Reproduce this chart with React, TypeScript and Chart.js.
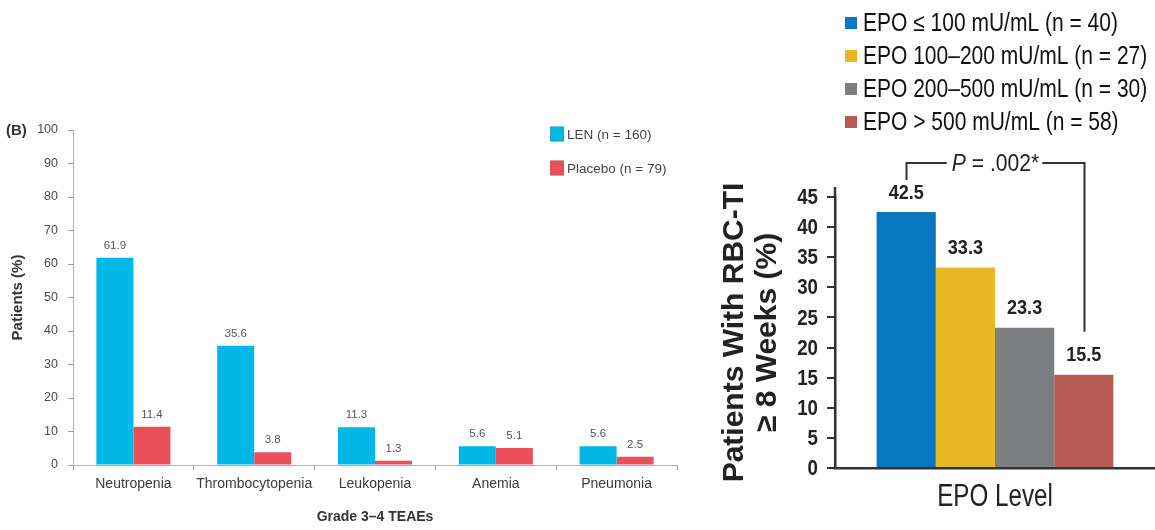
import React, { useEffect, useRef } from "react";
import { Chart, registerables } from "chart.js";

Chart.register(...registerables);

// ---------- Left panel data ----------
const leftCategories = ["Neutropenia", "Thrombocytopenia", "Leukopenia", "Anemia", "Pneumonia"];
const lenValues = [61.9, 35.6, 11.3, 5.6, 5.6];
const placeboValues = [11.4, 3.8, 1.3, 5.1, 2.5];
const leftSeriesLabels = ["LEN (n = 160)", "Placebo (n = 79)"];
const leftColors = ["#00b8e6", "#eb4f5a"];
const leftYMax = 100;
const leftYStep = 10;

// ---------- Right panel data ----------
const rightCategories = ["EPO Level"];
const epoLabels = [
  "EPO \u2264 100 mU/mL (n = 40)",
  "EPO 100\u2013200 mU/mL (n = 27)",
  "EPO 200\u2013500 mU/mL (n = 30)",
  "EPO > 500 mU/mL (n = 58)",
];
const epoValues = [42.5, 33.3, 23.3, 15.5];
const epoColors = ["#0a77c2", "#e6b822", "#7d7e82", "#b75c55"];
const rightYMax = 45;
const rightYStep = 5;
const pValueText = " = .002*";
const rightYTitle = ["Patients With RBC-TI", "\u2265 8 Weeks (%)"];

const SANS = "'Liberation Sans', Arial, Helvetica, sans-serif";

// draw horizontally condensed text (emulates a condensed typeface)
function narrowText(
  ctx: CanvasRenderingContext2D,
  text: string,
  x: number,
  y: number,
  font: string,
  align: CanvasTextAlign,
  sx: number
) {
  ctx.save();
  ctx.font = font;
  ctx.textAlign = align;
  ctx.textBaseline = "middle";
  ctx.translate(x, y);
  ctx.scale(sx, 1);
  ctx.fillText(text, 0, 0);
  ctx.restore();
}

function LeftChart() {
  const ref = useRef<HTMLCanvasElement>(null);
  useEffect(() => {
    const plugin = {
      id: "leftExtras",
      afterDatasetsDraw(chart: any) {
        const ctx = chart.ctx;
        ctx.save();
        ctx.font = `11.5px ${SANS}`;
        ctx.fillStyle = "#555";
        ctx.textAlign = "center";
        ctx.textBaseline = "middle";
        chart.data.datasets.forEach((ds: any, i: number) => {
          chart.getDatasetMeta(i).data.forEach((bar: any, j: number) => {
            ctx.fillText(Number(ds.data[j]).toFixed(1), bar.x, bar.y - 12);
          });
        });
        // legend
        const rowsY = [134, 168];
        ctx.font = `13.5px ${SANS}`;
        ctx.textAlign = "left";
        chart.data.datasets.forEach((ds: any, i: number) => {
          const y = rowsY[i];
          ctx.fillStyle = ds.backgroundColor;
          ctx.fillRect(550, y - 7.5, 14, 15);
          ctx.strokeStyle = "rgba(120,120,120,0.35)";
          ctx.lineWidth = 1;
          ctx.strokeRect(550.5, y - 7, 13, 14);
          ctx.fillStyle = "#444";
          ctx.fillText(ds.label, 567, y + 1);
        });
        // panel tag
        ctx.font = `bold 15px ${SANS}`;
        ctx.fillStyle = "#333";
        ctx.fillText("(B)", 6, 131);
        ctx.restore();
      },
    };
    const chart = new Chart(ref.current as HTMLCanvasElement, {
      type: "bar",
      data: {
        labels: leftCategories,
        datasets: [
          {
            label: leftSeriesLabels[0],
            data: lenValues,
            backgroundColor: leftColors[0],
            barPercentage: 1,
            categoryPercentage: 0.613,
          },
          {
            label: leftSeriesLabels[1],
            data: placeboValues,
            backgroundColor: leftColors[1],
            barPercentage: 1,
            categoryPercentage: 0.613,
          },
        ],
      },
      options: {
        responsive: false,
        animation: false,
        layout: { padding: { top: 130, right: 23, left: 0, bottom: 0 } },
        plugins: { legend: { display: false }, tooltip: { enabled: false } },
        scales: {
          x: {
            grid: {
              display: true,
              drawOnChartArea: false,
              drawTicks: true,
              tickLength: 5,
              color: "#9a9a9a",
              offset: true,
            },
            border: { display: true, color: "#b0b0b0", width: 1 },
            ticks: {
              color: "#3a3a3a",
              font: { family: SANS, size: 14 },
              padding: 6,
              maxRotation: 0,
              autoSkip: false,
            },
            title: {
              display: true,
              text: "Grade 3\u20134 TEAEs",
              color: "#333",
              font: { family: SANS, size: 14, weight: "bold" },
              padding: { top: 0, bottom: 4 },
            },
            afterFit: (s: any) => {
              s.height = 65;
            },
          },
          y: {
            min: 0,
            max: leftYMax,
            ticks: {
              stepSize: leftYStep,
              color: "#4a4a4a",
              font: { family: SANS, size: 12.5 },
              padding: 10,
            },
            grid: { drawOnChartArea: false, tickLength: 5, color: "#9a9a9a" },
            border: { display: true, color: "#b0b0b0", width: 1 },
            title: {
              display: true,
              text: "Patients (%)",
              color: "#333",
              font: { family: SANS, size: 15, weight: "bold" },
              padding: { top: 9, bottom: 0 },
            },
            afterFit: (s: any) => {
              s.width = 73;
            },
          },
        },
      },
      plugins: [plugin],
    } as any);
    return () => chart.destroy();
  }, []);
  return (
    <canvas
      ref={ref}
      width={700}
      height={530}
      style={{ position: "absolute", left: 0, top: 0, width: 700, height: 530 }}
    />
  );
}

function RightChart() {
  const ref = useRef<HTMLCanvasElement>(null);
  useEffect(() => {
    const plugin = {
      id: "rightExtras",
      afterDraw(chart: any) {
        const ctx = chart.ctx;
        const area = chart.chartArea;
        const yScale = chart.scales.y;
        const xScale = chart.scales.x;
        ctx.save();
        // y axis extension above top tick
        ctx.strokeStyle = "#333";
        ctx.lineWidth = 2.5;
        ctx.beginPath();
        ctx.moveTo(area.left, area.top + 1);
        ctx.lineTo(area.left, area.top - 10);
        ctx.stroke();

        // y tick labels (condensed)
        ctx.fillStyle = "#222";
        yScale.ticks.forEach((t: any) => {
          const py = yScale.getPixelForValue(t.value);
          narrowText(ctx, String(t.value), area.left - 17, py + 1, `bold 22px ${SANS}`, "right", 0.85);
        });
        // x category label (condensed)
        chart.data.labels.forEach((lab: string, i: number) => {
          const px = xScale.getPixelForTick(i);
          narrowText(ctx, lab, px, 497, `31px ${SANS}`, "center", 0.78);
        });

        // data labels
        const bars: any[] = [];
        chart.data.datasets.forEach((ds: any, i: number) => {
          const bar = chart.getDatasetMeta(i).data[0];
          bars.push(bar);
          narrowText(ctx, Number(ds.data[0]).toFixed(1), bar.x, bar.y - 19, `bold 21px ${SANS}`, "center", 0.86);
        });

        // legend
        const rowsY = [23, 56, 89, 122];
        chart.data.datasets.forEach((ds: any, i: number) => {
          const y = rowsY[i];
          ctx.fillStyle = ds.backgroundColor;
          ctx.fillRect(145, y - 6, 12, 12);
          ctx.fillStyle = "#111";
          narrowText(ctx, ds.label, 163, y + 1, `25px ${SANS}`, "left", 0.84);
        });

        // significance bracket
        const first = bars[0];
        const last = bars[bars.length - 1];
        const topY = 163;
        const lx = Math.round(first.x) + 0.5;
        const rx = Math.round(last.x) + 0.5;
        const sx = 0.88;
        ctx.font = `italic 24px ${SANS}`;
        const wP = ctx.measureText("P").width * sx;
        ctx.font = `24px ${SANS}`;
        const wRest = ctx.measureText(pValueText).width * sx;
        const total = wP + wRest;
        const cx = (lx + rx) / 2;
        const tx = cx - total / 2;
        ctx.strokeStyle = "#333";
        ctx.lineWidth = 2;
        ctx.beginPath();
        ctx.moveTo(lx, first.y - 32);
        ctx.lineTo(lx, topY);
        ctx.lineTo(tx - 5, topY);
        ctx.moveTo(tx + total + 3, topY);
        ctx.lineTo(rx, topY);
        ctx.lineTo(rx, last.y - 43);
        ctx.stroke();
        ctx.fillStyle = "#222";
        narrowText(ctx, "P", tx, topY + 1, `italic 24px ${SANS}`, "left", sx);
        narrowText(ctx, pValueText, tx + wP, topY + 1, `24px ${SANS}`, "left", sx);
        ctx.restore();
      },
    };
    const chart = new Chart(ref.current as HTMLCanvasElement, {
      type: "bar",
      data: {
        labels: rightCategories,
        datasets: epoLabels.map((label, i) => ({
          label,
          data: [epoValues[i]],
          backgroundColor: epoColors[i],
          barPercentage: 1,
          categoryPercentage: 0.74,
        })),
      },
      options: {
        responsive: false,
        animation: false,
        layout: { padding: { top: 197, right: 0, left: 0, bottom: 0 } },
        plugins: { legend: { display: false }, tooltip: { enabled: false } },
        scales: {
          x: {
            grid: { display: false, drawTicks: false },
            border: { display: true, color: "#333", width: 2.5 },
            ticks: { display: false },
            afterFit: (s: any) => {
              s.height = 62;
            },
          },
          y: {
            min: 0,
            max: rightYMax,
            ticks: { stepSize: rightYStep, display: false },
            grid: { drawOnChartArea: false, tickLength: 8, color: "#333", lineWidth: 2 },
            border: { display: true, color: "#333", width: 2.5 },
            title: {
              display: true,
              text: rightYTitle,
              color: "#222",
              font: { family: SANS, size: 30, weight: "bold", lineHeight: 1.1 },
              padding: { top: 18, bottom: 0 },
            },
            afterFit: (s: any) => {
              s.width = 135;
            },
          },
        },
      },
      plugins: [plugin],
    } as any);
    return () => chart.destroy();
  }, []);
  return (
    <canvas
      ref={ref}
      width={455}
      height={530}
      style={{ position: "absolute", left: 700, top: 0, width: 455, height: 530 }}
    />
  );
}

export default function App() {
  return (
    <div
      style={{
        position: "absolute",
        left: 0,
        top: 0,
        width: 1155,
        height: 530,
        background: "#fff",
        overflow: "hidden",
      }}
    >
      <LeftChart />
      <RightChart />
    </div>
  );
}
